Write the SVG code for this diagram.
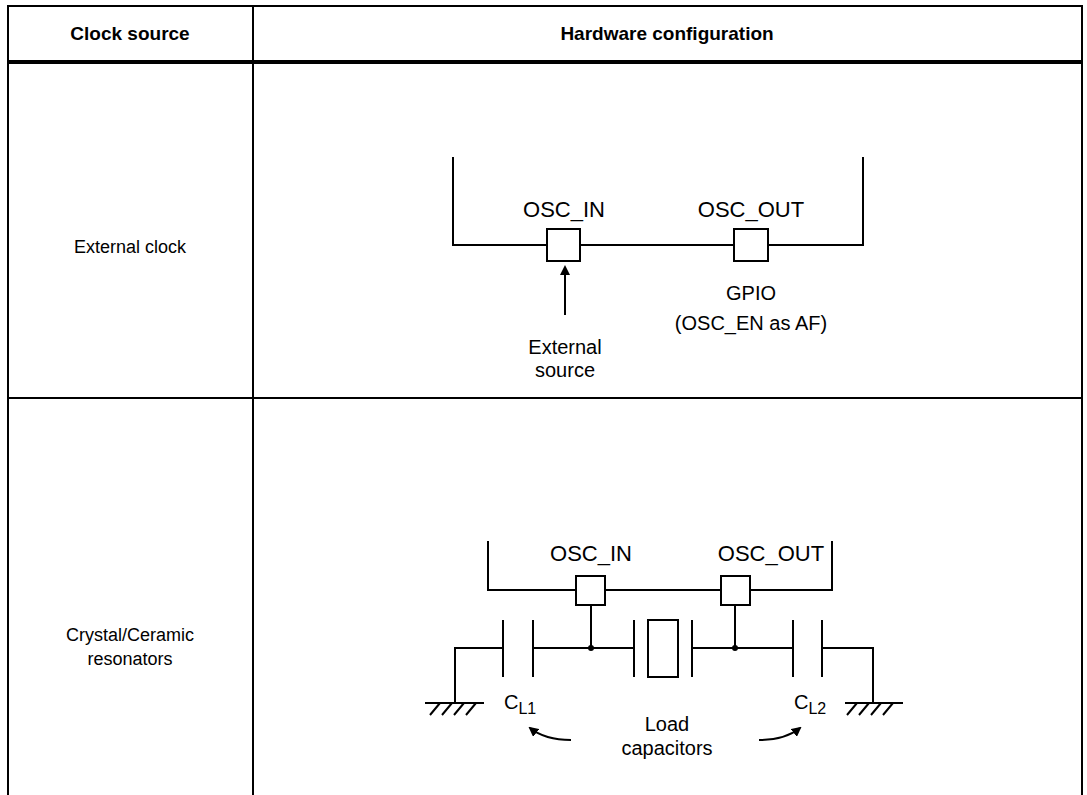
<svg xmlns="http://www.w3.org/2000/svg" width="1087" height="795" viewBox="0 0 1087 795">
<style>
text{font-family:"Liberation Sans",Arial,sans-serif;fill:#000}
.h{font-size:19px;font-weight:bold}
.c{font-size:18px}
.d{font-size:20px}
.l{font-size:22px}
.w{stroke:#000;stroke-width:2;fill:none}
.p{stroke:#000;stroke-width:2;fill:#fff}
</style>
<defs><marker id="a" markerWidth="10" markerHeight="10" refX="8" refY="5" orient="auto" markerUnits="userSpaceOnUse"><path d="M0,0 L10,5 L0,10 z" fill="#000"/></marker></defs>
<rect width="1087" height="795" fill="#fff"/>
<g id="table">
<path class="w" d="M8,796 V6 H1082 V796 M253,6 V796 M8,398 H1082"/>
<path stroke="#000" stroke-width="4" d="M8,62 H1082"/>
<text class="h" x="130" y="40" text-anchor="middle">Clock source</text>
<text class="h" x="667" y="40" text-anchor="middle">Hardware configuration</text>
<text class="c" x="130" y="253" text-anchor="middle">External clock</text>
<text class="c" x="130" y="641" text-anchor="middle">Crystal/Ceramic</text>
<text class="c" x="130" y="665" text-anchor="middle">resonators</text>
</g>
<g id="ext-chip">
<path class="w" d="M453,157 V245 H863 V157"/>
<rect class="p" x="547" y="229" width="33" height="32"/>
<rect class="p" x="734" y="229" width="34" height="32"/>
<text class="l" x="564" y="217" text-anchor="middle">OSC_IN</text>
<text class="l" x="751" y="217" text-anchor="middle">OSC_OUT</text>
<text class="d" x="751" y="300" text-anchor="middle">GPIO</text>
<text class="d" x="751" y="330" text-anchor="middle">(OSC_EN as AF)</text>
<text class="d" x="565" y="354" text-anchor="middle">External</text>
<text class="d" x="565" y="377" text-anchor="middle">source</text>
</g>
<g id="res-chip">
<path class="w" d="M488,541 V590 H832 V541"/>
<rect class="p" x="576" y="576" width="29" height="29"/>
<rect class="p" x="721" y="576" width="29" height="29"/>
<text class="l" x="591" y="561" text-anchor="middle">OSC_IN</text>
<text class="l" x="771" y="561" text-anchor="middle">OSC_OUT</text>
</g>
<g id="circuit">
<path class="w" d="M455,703 V648 H503 M503,620 V677 M533,620 V677 M533,648 H634 M634,620 V677 M692,620 V677 M692,648 H793 M793,620 V677 M822,620 V677 M822,648 H873 V703"/>
<rect class="w" x="648" y="620" width="30" height="57"/>
<path class="w" d="M591,605 V648 M735,605 V648"/>
<circle cx="591" cy="648" r="3"/><circle cx="735" cy="648" r="3"/>
<path class="w" d="M425,703 H484 M440,703 l-10,12 M452,703 l-10,12 M464,703 l-10,12 M476,703 l-10,12 M845,703 H903 M857,703 l-10,12 M869,703 l-10,12 M881,703 l-10,12 M893,703 l-10,12"/>
<text class="d" x="504" y="709">C<tspan font-size="16" dy="5">L1</tspan></text>
<text class="d" x="794" y="709">C<tspan font-size="16" dy="5">L2</tspan></text>
<text class="d" x="667" y="731" text-anchor="middle">Load</text>
<text class="d" x="667" y="755" text-anchor="middle">capacitors</text>
</g>
<g id="connectors">
<path class="w" d="M565,315 V267" marker-end="url(#a)"/>
<path class="w" d="M571,740 Q545,740 530,728" marker-end="url(#a)"/>
<path class="w" d="M759,740 Q785,740 800,728" marker-end="url(#a)"/>
</g>
</svg>
